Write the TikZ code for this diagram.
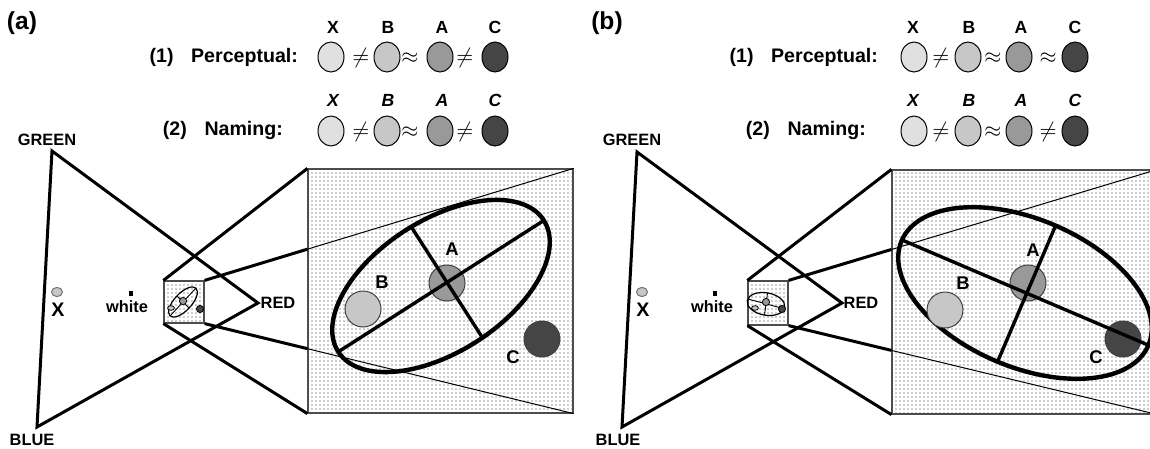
\documentclass[tikz,border=0pt]{standalone}
\usepackage{fontspec}
\setmainfont{Liberation Sans}
\usepackage{tikz}
\usetikzlibrary{shapes.geometric, patterns, calc}
\definecolor{cLight}{gray}{0.88}
\definecolor{cPale}{gray}{0.78}
\definecolor{cMid}{gray}{0.60}
\definecolor{cDark}{gray}{0.27}
\pgfdeclarepatternformonly{finedots}{\pgfpoint{-1pt}{-1pt}}{\pgfpoint{1pt}{1pt}}{\pgfpoint{2pt}{2pt}}{%
	\pgfpathcircle{\pgfpointorigin}{0.33pt}\pgfusepath{fill}}
\tikzset{
	paneltag/.style ={font=\bfseries\fontsize{12.3}{14}\selectfont},
	rowtext/.style  ={anchor=east, font=\bfseries\fontsize{9.8}{11}\selectfont},
	colhead/.style  ={font=\bfseries\fontsize{8.8}{10}\selectfont},
	colheadit/.style={font=\bfseries\itshape\fontsize{8.8}{10}\selectfont},
	swatch/.style   ={ellipse, draw=black, line width=0.5pt, minimum width=13pt, minimum height=15pt, inner sep=0pt},
	relsym/.style   ={font=\fontsize{11}{13}\selectfont, inner sep=0pt},
	% chromaticity triangle
	vlabel/.style   ={font=\bfseries\fontsize{8.2}{10}\selectfont},
	tri/.style      ={line width=1.5pt},
	patch/.style    ={ellipse, draw=black!55, fill=cPale, line width=0.5pt, minimum width=5.5pt, minimum height=4.6pt, inner sep=0pt},
	whitept/.style  ={rectangle, fill=black, minimum width=2pt, minimum height=2.5pt, inner sep=0pt},
	bigx/.style     ={font=\bfseries\fontsize{9.8}{11}\selectfont},
	% zoomed region
	dotbox/.style   ={rectangle, draw=black!70, line width=0.6pt, pattern=finedots, pattern color=black!85, inner sep=0pt},
	zoomline/.style ={line width=1.5pt},
	rayline/.style  ={line width=0.5pt},
	ring/.style     ={line width=2.2pt},
	axisline/.style ={line width=1.7pt},
	blob/.style     ={circle, draw=black!75, line width=0.5pt, minimum size=18pt, inner sep=0pt},
	bloblbl/.style  ={font=\bfseries\fontsize{9.2}{11}\selectfont},
	miniring/.style ={line width=0.6pt},
	miniaxis/.style ={line width=0.45pt},
	miniblob/.style ={circle, draw=black, line width=0.4pt, minimum size=3.6pt, inner sep=0pt},
	minipatch/.style={ellipse, draw=black, fill=cPale, line width=0.4pt, minimum width=3.4pt, minimum height=2.3pt, inner sep=0pt},
}

\begin{document}
\begin{tikzpicture}[x=0.5pt, y=0.5pt]
	\useasboundingbox (0,-449) rectangle (1150,0);
	% ================= panel (a) =================
	\node[paneltag] (taga) at (22,-23) {(a)};
	% perceptual row
	\node[rowtext] (perca) at (305,-57) {(1)\hspace{0.9em}Perceptual:};
	\node[colhead] (h1a) at (333,-27) {X};
	\node[colhead] (h2a) at (388,-27) {B};
	\node[colhead] (h3a) at (442,-27) {A};
	\node[colhead] (h4a) at (495,-27) {C};
	\node[swatch, fill=cLight] (p1a) at (331,-57) {};
	\node[relsym] (r1a) at (361,-58) {$\neq$};
	\node[swatch, fill=cPale] (p2a) at (387,-57) {};
	\node[relsym] (r2a) at (410,-58) {$\approx$};
	\node[swatch, fill=cMid] (p3a) at (440,-57) {};
	\node[relsym] (r3a) at (465,-58) {$\neq$};
	\node[swatch, fill=cDark] (p4a) at (495,-57) {};
	% naming row
	\node[rowtext] (nama) at (290,-130) {(2)\hspace{0.9em}Naming:};
	\node[colheadit] (g1a) at (333,-100) {X};
	\node[colheadit] (g2a) at (388,-100) {B};
	\node[colheadit] (g3a) at (442,-100) {A};
	\node[colheadit] (g4a) at (495,-100) {C};
	\node[swatch, fill=cLight] (n1a) at (331,-131) {};
	\node[relsym] (s1a) at (361,-132) {$\neq$};
	\node[swatch, fill=cPale] (n2a) at (387,-131) {};
	\node[relsym] (s2a) at (410,-132) {$\approx$};
	\node[swatch, fill=cMid] (n3a) at (440,-131) {};
	\node[relsym] (s3a) at (465,-132) {$\neq$};
	\node[swatch, fill=cDark] (n4a) at (495,-131) {};
	% chromaticity triangle
	\coordinate (greena) at (52,-151);
	\coordinate (reda) at (258,-303);
	\coordinate (bluea) at (37,-427);
	\draw[tri] (greena) -- (reda) -- (bluea) -- cycle;
	\node[vlabel] (lgreena) at (47,-140) {GREEN};
	\node[vlabel] (lreda) at (278,-303) {RED};
	\node[vlabel] (lbluea) at (32,-440) {BLUE};
	\node[patch] (xpa) at (57,-292) {};
	\node[bigx] (xla) at (58,-310) {X};
	\node[whitept] (wpa) at (131,-293) {};
	\node[vlabel] (wla) at (127,-307) {white};
	% small box and its zoom
	\node[dotbox, minimum width=20pt, minimum height=21pt] (sboxa) at (184,-302) {};
	\draw[miniring] (183,-302) ellipse [x radius=9.5pt, y radius=4.3pt, rotate=47];
	\draw[miniaxis] (170,-316) -- (196,-288);
	\draw[miniaxis] (177,-296) -- (189,-308);
	\node[minipatch] (mba) at (171,-308) {};
	\node[miniblob, fill=cMid] (maa) at (183,-301) {};
	\node[miniblob, fill=cDark] (mca) at (200,-309) {};
	\node[dotbox, minimum width=132.5pt, minimum height=122pt] (bboxa) at (440.5,-291) {};
	\coordinate (ua) at (intersection of sboxa.north east--bboxa.north east and bboxa.north west--bboxa.south west);
	\coordinate (la) at (intersection of sboxa.south east--bboxa.south east and bboxa.north west--bboxa.south west);
	\draw[zoomline] (sboxa.north west) -- (bboxa.north west);
	\draw[zoomline] (sboxa.south west) -- (bboxa.south west);
	\draw[zoomline] (sboxa.north east) -- (ua);
	\draw[zoomline] (sboxa.south east) -- (la);
	\draw[rayline] (ua) -- (bboxa.north east);
	\draw[rayline] (la) -- (bboxa.south east);
	\draw[ring] (441,-286) ellipse [x radius=61pt, y radius=33pt, rotate=32.6];
	\node[blob, fill=cPale] (bba) at (363,-309) {};
	\node[blob, fill=cMid] (baa) at (447,-283) {};
	\node[blob, fill=cDark] (bca) at (542,-339) {};
	\draw[axisline] (338,-352) -- (543,-221);
	\draw[axisline] (412,-228) -- (482,-337);
	\node[bloblbl] (lba) at (382,-282) {B};
	\node[bloblbl] (laa) at (452,-249) {A};
	\node[bloblbl] (lca) at (513,-357) {C};
	% ================= panel (b) =================
	\node[paneltag] (tagb) at (607,-23) {(b)};
	% perceptual row
	\node[rowtext] (percb) at (885,-57) {(1)\hspace{0.9em}Perceptual:};
	\node[colhead] (h1b) at (913,-27) {X};
	\node[colhead] (h2b) at (969,-27) {B};
	\node[colhead] (h3b) at (1021,-27) {A};
	\node[colhead] (h4b) at (1075,-27) {C};
	\node[swatch, fill=cLight] (p1b) at (914,-57) {};
	\node[relsym] (r1b) at (941,-58) {$\neq$};
	\node[swatch, fill=cPale] (p2b) at (968,-57) {};
	\node[relsym] (r2b) at (993,-58) {$\approx$};
	\node[swatch, fill=cMid] (p3b) at (1019,-57) {};
	\node[relsym] (r3b) at (1048,-58) {$\approx$};
	\node[swatch, fill=cDark] (p4b) at (1075,-57) {};
	% naming row
	\node[rowtext] (namb) at (873,-130) {(2)\hspace{0.9em}Naming:};
	\node[colheadit] (g1b) at (913,-100) {X};
	\node[colheadit] (g2b) at (969,-100) {B};
	\node[colheadit] (g3b) at (1021,-100) {A};
	\node[colheadit] (g4b) at (1075,-100) {C};
	\node[swatch, fill=cLight] (n1b) at (914,-131) {};
	\node[relsym] (s1b) at (941,-132) {$\neq$};
	\node[swatch, fill=cPale] (n2b) at (968,-131) {};
	\node[relsym] (s2b) at (993,-132) {$\approx$};
	\node[swatch, fill=cMid] (n3b) at (1019,-131) {};
	\node[relsym] (s3b) at (1048,-132) {$\neq$};
	\node[swatch, fill=cDark] (n4b) at (1075,-131) {};
	% chromaticity triangle
	\coordinate (greenb) at (637,-152);
	\coordinate (redb) at (842,-303);
	\coordinate (blueb) at (622,-427);
	\draw[tri] (greenb) -- (redb) -- (blueb) -- cycle;
	\node[vlabel] (lgreenb) at (632,-140) {GREEN};
	\node[vlabel] (lredb) at (861,-303) {RED};
	\node[vlabel] (lblueb) at (618,-440) {BLUE};
	\node[patch] (xpb) at (642,-292) {};
	\node[bigx] (xlb) at (643,-310) {X};
	\node[whitept] (wpb) at (715,-293) {};
	\node[vlabel] (wlb) at (712,-307) {white};
	% small box and its zoom
	\node[dotbox, minimum width=20pt, minimum height=22pt] (sboxb) at (768,-303) {};
	\draw[miniring] (766,-304) ellipse [x radius=9.5pt, y radius=5.6pt, rotate=-10];
	\draw[miniaxis] (748,-299) -- (785,-309);
	\draw[miniaxis] (767.5,-293) -- (764.5,-315);
	\node[minipatch] (mbb) at (755,-308) {};
	\node[miniblob, fill=cMid] (mab) at (766,-302) {};
	\node[miniblob, fill=cDark] (mcb) at (782,-309) {};
	\begin{scope}
		\clip (0,-449) rectangle (1150,0);
		\node[dotbox, minimum width=132.5pt, minimum height=122pt] (bboxb) at (1024.5,-292) {};
		\coordinate (ub) at (intersection of sboxb.north east--bboxb.north east and bboxb.north west--bboxb.south west);
		\coordinate (lb) at (intersection of sboxb.south east--bboxb.south east and bboxb.north west--bboxb.south west);
		\draw[zoomline] (sboxb.north west) -- (bboxb.north west);
		\draw[zoomline] (sboxb.south west) -- (bboxb.south west);
		\draw[zoomline] (sboxb.north east) -- (ub);
		\draw[zoomline] (sboxb.south east) -- (lb);
		\draw[rayline] (ub) -- (bboxb.north east);
		\draw[rayline] (lb) -- (bboxb.south east);
		\draw[ring] (1025,-293) ellipse [x radius=67pt, y radius=37pt, rotate=-22.9];
		\node[blob, fill=cPale] (bbb) at (945,-310) {};
		\node[blob, fill=cMid] (bab) at (1028,-283) {};
		\node[blob, fill=cDark] (bcb) at (1123,-339) {};
		\draw[axisline] (902,-240) -- (1148,-345);
		\draw[axisline] (1055,-227) -- (997,-363);
		\node[bloblbl] (lbb) at (963,-283) {B};
		\node[bloblbl] (lab) at (1033,-250) {A};
		\node[bloblbl] (lcb) at (1096,-357) {C};
	\end{scope}
\end{tikzpicture}
\end{document}
